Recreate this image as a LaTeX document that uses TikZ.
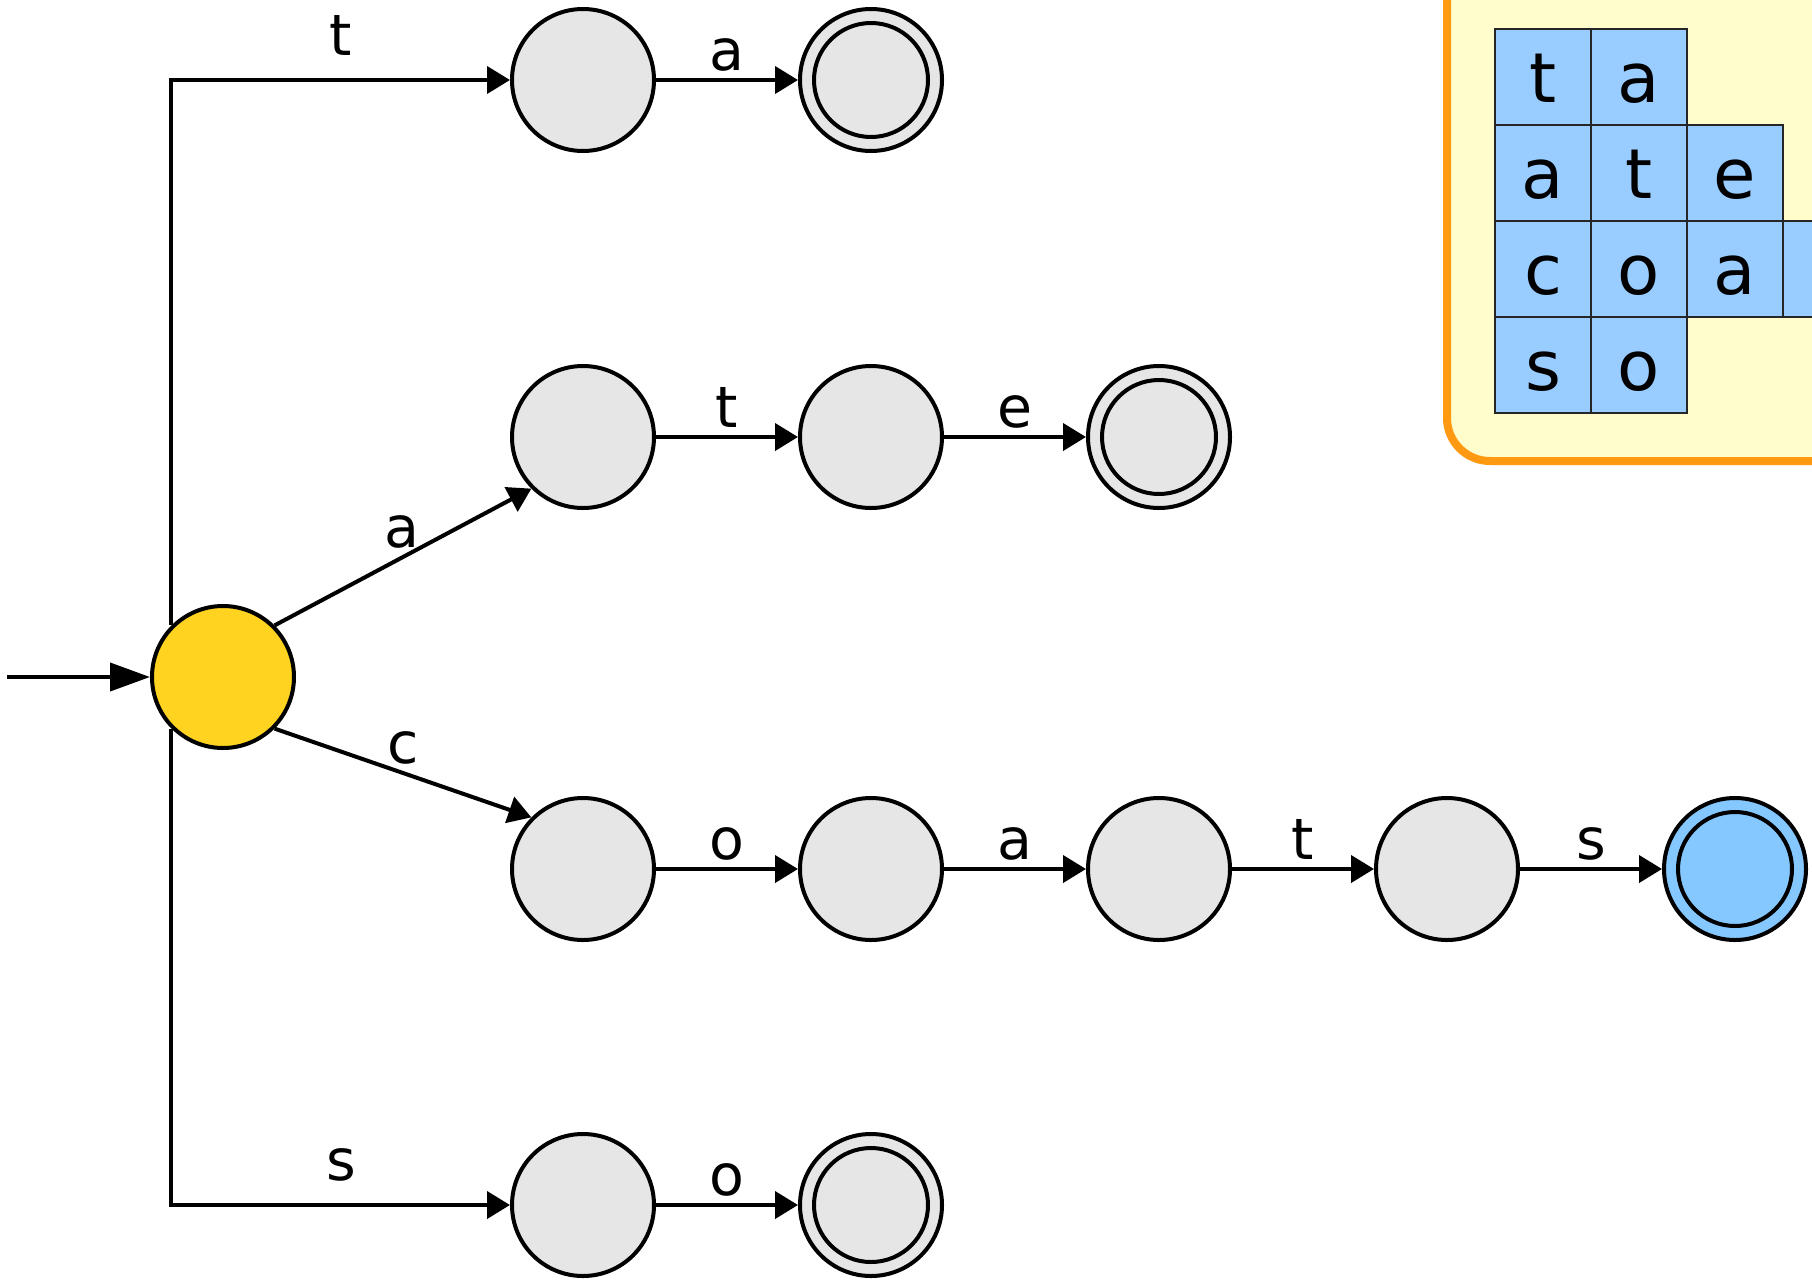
\documentclass[tikz,border=0pt]{standalone}
\usepackage{fontspec}
\setmainfont{DejaVu Sans}
\usetikzlibrary{arrows.meta}
\definecolor{stgray}{RGB}{230,230,230}
\definecolor{styellow}{RGB}{255,211,32}
\definecolor{stblue}{RGB}{133,200,255}
\definecolor{cellblue}{RGB}{153,204,255}
\definecolor{boxfill}{RGB}{255,253,204}
\definecolor{boxorange}{RGB}{255,153,18}
\begin{document}
\begin{tikzpicture}[x=1pt,y=-1pt,
  state/.style={circle,draw=black,line width=4pt,fill=stgray,minimum size=142pt,inner sep=0pt},
  accept/.style={state,path picture={\draw[line width=4pt] (path picture bounding box.center) circle (57pt);}},
  edge/.style={draw=black,line width=4pt,-{Triangle[length=23pt,width=27pt]}},
  lbl/.style={font=\fontsize{57}{70}\selectfont,anchor=base,inner sep=0pt},
  cell/.style={draw=black!85,line width=1.5pt,fill=cellblue,minimum size=96pt,inner sep=0pt,
    text height=50pt,text depth=0pt,font=\fontsize{69}{80}\selectfont}]
\useasboundingbox (0,0) rectangle (1812,1280);
\clip (0,0) rectangle (1812,1280);
\fill[white] (0,0) rectangle (1812,1280);

% legend box
\draw[boxorange,line width=8pt,fill=boxfill,rounded corners=43pt] (1447,-60) rectangle (1900,461);
\node[cell] (g00) at (1543,77) {t};
\node[cell] (g01) at (1639,77) {a};
\node[cell] (g10) at (1543,173) {a};
\node[cell] (g11) at (1639,173) {t};
\node[cell] (g12) at (1735,173) {e};
\node[cell] (g20) at (1543,269) {c};
\node[cell] (g21) at (1639,269) {o};
\node[cell] (g22) at (1735,269) {a};
\node[cell] (g23) at (1831,269) {};
\node[cell] (g30) at (1543,365) {s};
\node[cell] (g31) at (1639,365) {o};

% states
\node[state,fill=styellow] (q0) at (223,677) {};
\node[state] (t1) at (583,80) {};
\node[accept] (ta) at (871,80) {};
\node[state] (a1) at (583,437) {};
\node[state] (at) at (871,437) {};
\node[accept] (ate) at (1159,437) {};
\node[state] (c1) at (583,869) {};
\node[state] (co) at (871,869) {};
\node[state] (coa) at (1159,869) {};
\node[state] (coat) at (1447,869) {};
\node[accept,fill=stblue] (coats) at (1735,869) {};
\node[state] (s1) at (583,1205) {};
\node[accept] (so) at (871,1205) {};

% edges
\coordinate (init) at (7,677);
\draw[line width=4pt,-{Triangle[length=40pt,width=28pt]}] (init) -- (q0);
\draw[edge] (q0.north west) |- (t1);
\draw[edge] (q0.south west) |- (s1);
\draw[edge] (q0.north east) -- (a1.south west);
\draw[edge] (q0.south east) -- (c1.north west);
\draw[edge] (t1) -- (ta);
\draw[edge] (a1) -- (at);
\draw[edge] (at) -- (ate);
\draw[edge] (c1) -- (co);
\draw[edge] (co) -- (coa);
\draw[edge] (coa) -- (coat);
\draw[edge] (coat) -- (coats);
\draw[edge] (s1) -- (so);

% labels
\node[lbl] (lt) at (341,55) {t};
\node[lbl] (ls) at (341,1180) {s};
\node[lbl] (la) at (402,547) {a};
\node[lbl] (lc) at (403,763) {c};
\node[lbl] (lta) at (727,70) {a};
\node[lbl] (lat) at (727,427) {t};
\node[lbl] (late) at (1015,427) {e};
\node[lbl] (lco) at (727,859) {o};
\node[lbl] (lcoa) at (1015,859) {a};
\node[lbl] (lcoat) at (1303,859) {t};
\node[lbl] (lcoats) at (1591,859) {s};
\node[lbl] (lso) at (727,1195) {o};
\end{tikzpicture}
\end{document}
